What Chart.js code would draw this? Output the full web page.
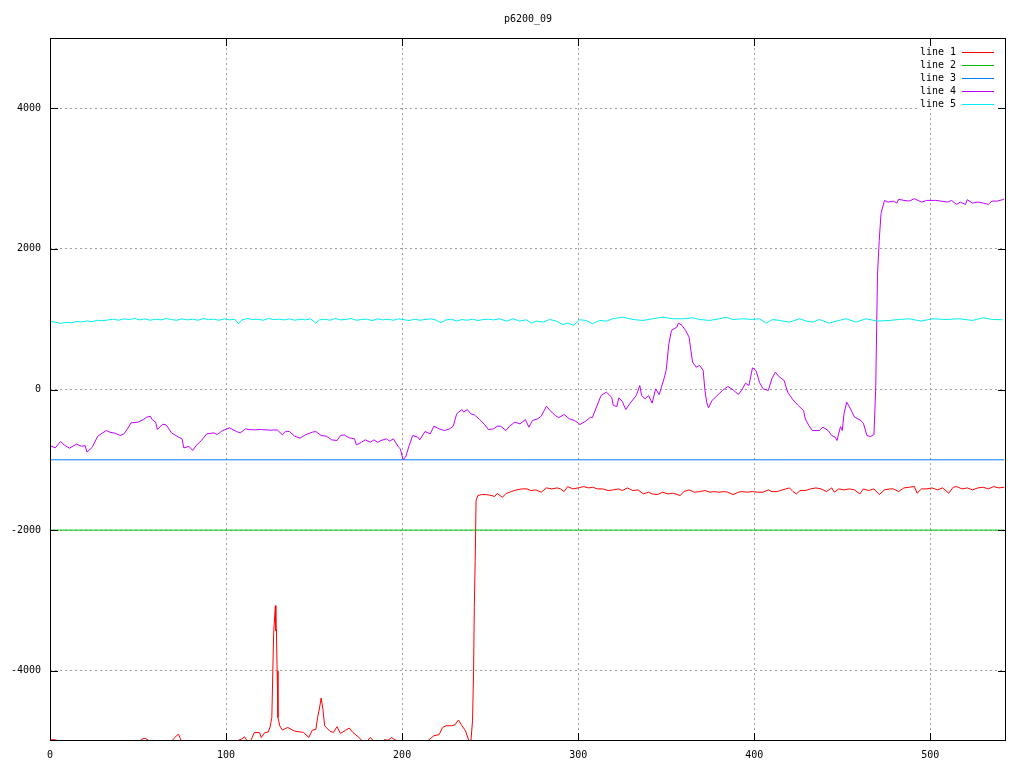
<!DOCTYPE html>
<html>
<head>
<meta charset="utf-8">
<script src="https://cdn.jsdelivr.net/npm/chart.js@4/dist/chart.umd.min.js"></script>
<style>
html,body{margin:0;padding:0;background:#fff;}
canvas{display:block;}
</style>
</head>
<body>
<canvas id="c" width="1024" height="768"></canvas>
<script>
const chartTitle = "p6200_09";
const seriesLabels = ["line 1", "line 2", "line 3", "line 4", "line 5"];
const seriesColors = ["#ff0000", "#00c000", "#0080ff", "#c000ff", "#00eeee"];
const xTicks = [0, 100, 200, 300, 400, 500];
const yTicks = [-4000, -2000, 0, 2000, 4000];
const xMin = 0, xMax = 543, yMin = -5000, yMax = 5000;

// line 1 (red)
const line1X = [0,2,4,6,10,20,40,50,52,54,56,58,65,69,71,72,73,74,75,90,100,105,107,109,110.5,112,113,114,116,119,120,122,124,125,126,127,128,128.3,128.6,129,129.5,130.5,132,135,139,144,147,149,151,152,153,154,155,156,159,161,163,165,168,170,172,175,177.5,179,180.5,182,184,186,188,190,192,194,196,198,200,205,210,214.5,218,221,223,225,228,230,232,234,236,238,239,240,240.6,241,241.5,242,243,245,248,251,252.5,254,257,259,262,265,268,271,273,276,279,282,285,288,290,292,294,297,300,303,306,308,311,314,317,320,323,325,328,331,334,337,340,342,345,348,351,354,358,360,363,366,369,372,375,377,380,383,385,388,391,393,396,399,402,405,408,410,413,416,420,422,424,426,429,432,435,438,441,444,445.5,448,451,454,457,460,462,465,468,471,474,477,479,482,485,488,491,492.5,495,498,501,504,507,510.5,513,515,518,521,524,527,530,533,536,539,542];
const line1Y = [-4985,-4980,-4990,-5060,-5200,-5300,-5200,-5050,-4975,-4960,-4990,-5080,-5100,-5000,-4950,-4920,-4905,-4960,-5080,-5300,-5200,-5050,-4990,-4970,-4940,-5000,-5050,-5000,-4880,-4880,-4950,-4880,-4870,-4800,-4665,-3480,-3075,-3430,-3410,-4000,-4665,-4785,-4845,-4807,-4860,-4878,-4950,-4845,-4835,-4665,-4545,-4389,-4545,-4783,-4860,-4878,-4797,-4892,-4845,-4816,-4878,-4940,-5000,-5060,-4990,-4950,-5010,-4990,-5030,-4980,-4990,-4950,-4985,-5000,-5100,-5250,-5150,-5000,-4925,-4910,-4807,-4783,-4783,-4770,-4702,-4783,-4855,-5000,-5020,-4712,-3975,-3099,-2434,-1580,-1509,-1495,-1495,-1509,-1523,-1480,-1533,-1480,-1452,-1428,-1414,-1414,-1438,-1428,-1461,-1400,-1414,-1400,-1414,-1452,-1381,-1414,-1400,-1381,-1400,-1390,-1414,-1414,-1438,-1428,-1414,-1438,-1400,-1438,-1428,-1485,-1461,-1485,-1495,-1461,-1485,-1475,-1509,-1452,-1428,-1461,-1452,-1438,-1461,-1452,-1461,-1452,-1461,-1495,-1461,-1452,-1461,-1452,-1461,-1461,-1428,-1452,-1452,-1428,-1400,-1452,-1485,-1438,-1438,-1414,-1400,-1414,-1452,-1400,-1461,-1414,-1428,-1414,-1428,-1485,-1414,-1438,-1414,-1495,-1428,-1414,-1414,-1452,-1400,-1390,-1381,-1475,-1414,-1414,-1400,-1428,-1400,-1475,-1390,-1381,-1414,-1400,-1428,-1400,-1390,-1414,-1381,-1400,-1390];

// line 2 (green) and line 3 (blue): constant levels
const line2X = [0, 542];
const line2Y = [-2000, -2000];
const line3X = [0, 542];
const line3Y = [-1000, -1000];

// line 4 (purple)
const line4X = [0,3,6,8,11,15,18,20,21,24,27,29,32,34,37,40,42,44,46,50,53,55,57,58,60,61,64,66,69,73,75,76,79,81,83,86,89,93,95,98,102,106,108,111,113,116,120,125,129,132,134,136,139,142,145,149,151,154,157,160,163,165,167,170,173,174,177,179,182,184,186,188,191,193,195,198,199,200.5,202,204,206,209,210,213,216,218,221,224,227,229,231,234,235,237,239,241,244,247,249,252,254,256,259,261,264,267,270,272,274,277,279,282,284,287,289,292,295,298,301,304,307,308,310,313,316,319,320,322,323,325,327,330,333,335,336,338,340,342,344,346,347,349,350,351.5,353,356,357,359,361,363,364,365,367,369,371,372,373,374,376,379,382,385,388,391,393,395,397,399,401,403,405,408,410,412,414,417,419,422,425,428,429,431,433,437,439,442,444,446,447,449,450,451,452.5,454,457,460,462,464,466,468,469,470,471,472,474,476,479,481,482,485,488,491,495,498,503,506,510,512,515,517,520,521,524,527,530,533,535,538,541,542];
const line4Y = [-797,-830,-740,-788,-835,-778,-807,-800,-892,-821,-669,-631,-584,-607,-622,-655,-631,-560,-475,-465,-427,-394,-380,-427,-465,-569,-494,-503,-617,-678,-702,-830,-810,-868,-797,-726,-631,-617,-641,-584,-546,-598,-617,-560,-569,-574,-569,-579,-574,-645,-593,-598,-664,-693,-645,-607,-598,-655,-664,-716,-726,-655,-645,-688,-702,-788,-750,-716,-750,-716,-750,-726,-702,-735,-702,-821,-845,-996,-963,-797,-655,-679,-716,-598,-631,-522,-560,-584,-560,-522,-346,-285,-322,-285,-346,-360,-427,-503,-569,-560,-522,-522,-584,-522,-465,-489,-427,-536,-441,-418,-380,-237,-299,-370,-400,-356,-418,-441,-498,-455,-394,-403,-275,-85,-38,-109,-228,-242,-119,-166,-285,-180,-85,57,-85,-133,-85,-194,9,-71,9,176,280,650,840,887,944,911,840,745,555,389,318,342,270,-14,-180,-261,-157,-85,-14,43,-5,-71,-5,90,57,308,270,100,9,-14,152,247,185,128,-38,-147,-228,-299,-418,-512,-584,-584,-536,-584,-655,-679,-726,-527,-584,-346,-180,-242,-394,-432,-479,-655,-669,-641,9,1623,2121,2501,2690,2666,2680,2652,2705,2690,2680,2714,2666,2690,2690,2680,2666,2690,2633,2666,2633,2700,2652,2666,2652,2633,2680,2680,2700,2710];

// line 5 (cyan)
const line5X = [0,3,6,9,12,15,18,21,24,27,30,33,36,39,42,45,48,51,54,57,60,63,66,69,72,75,78,81,84,87,90,93,96,99,102,105,107,109,112,115,118,121,124,127,130,133,136,139,142,145,148,151,153,156,159,162,165,168,171,174,177,180,183,186,189,192,195,198,201,204,207,210,213,216,219,222,225,228,231,234,237,240,243,246,249,252,255.4,259.2,263,266.8,270.5,273.4,276.2,280,283.8,287.6,291.3,294.2,297.4,300.8,304.6,308,312.2,316,319.7,325.4,331.1,336.8,342.4,348.1,353.8,359.5,365.1,368.9,374.6,380.3,384,387.8,393.5,399.2,403,406.8,410.5,414.3,420,425.7,429.5,433.2,437,442.7,446.5,452.2,457.8,463.5,470.1,476.8,482.4,488.1,494.7,501.4,508.9,516.5,524.1,529.7,535.4,541.1];
const line5Y = [968,958,940,955,948,968,960,975,965,985,978,990,1000,985,1005,995,1010,990,1005,985,1000,990,1010,995,985,1005,990,1000,985,1008,995,1000,985,1005,990,1000,935,990,1010,995,1000,985,1010,995,1000,990,1005,985,1000,990,1005,945,990,1000,985,1010,990,995,1010,985,995,1000,980,1005,990,1000,985,1005,995,980,1000,985,995,1005,990,950,990,1000,975,995,985,1000,980,995,1000,990,1006,973,1006,973,992,944,973,958,996,973,925,944,911,992,982,935,982,973,1006,1029,996,982,1006,1029,1006,1006,1020,996,982,1006,1029,996,1006,996,1006,944,996,982,958,1006,973,958,996,944,973,1006,958,1006,973,982,996,1006,973,1006,996,1006,982,1020,996,992];

const xs = [line1X, line2X, line3X, line4X, line5X];
const ys = [line1Y, line2Y, line3Y, line4Y, line5Y];

const FONT = "'DejaVu Sans Mono', monospace";

const datasets = seriesLabels.map((lab, i) => ({
  label: lab,
  data: xs[i].map((x, k) => ({x: x, y: ys[i][k]})),
  borderColor: seriesColors[i],
  backgroundColor: seriesColors[i],
  borderWidth: 1,
  pointRadius: 0,
  tension: 0,
  fill: false,
  order: seriesLabels.length - i
}));

const decor = {
  id: 'decor',
  beforeDatasetsDraw(chart) {
    const ctx = chart.ctx;
    // key area is opaque (hides grid behind it)
    ctx.save();
    ctx.fillStyle = '#ffffff';
    ctx.fillRect(917, 44, 84, 65);
    ctx.restore();
  },
  afterDraw(chart) {
    const ctx = chart.ctx;
    const a = chart.chartArea;
    const xs_ = chart.scales.x, ys_ = chart.scales.y;
    ctx.save();
    // border
    ctx.strokeStyle = '#000';
    ctx.lineWidth = 1;
    ctx.strokeRect(Math.round(a.left) + 0.5, Math.round(a.top) + 0.5,
                   Math.round(a.right - a.left) - 1, Math.round(a.bottom - a.top) - 1);
    // inward ticks
    const tl = 8;
    ctx.beginPath();
    yTicks.forEach(v => {
      const p = Math.round(ys_.getPixelForValue(v)) + 0.5;
      ctx.moveTo(a.left, p); ctx.lineTo(a.left + tl, p);
      ctx.moveTo(a.right, p); ctx.lineTo(a.right - tl, p);
    });
    xTicks.forEach(v => {
      const p = Math.round(xs_.getPixelForValue(v)) + 0.5;
      ctx.moveTo(p, a.bottom); ctx.lineTo(p, a.bottom - tl);
      ctx.moveTo(p, a.top); ctx.lineTo(p, a.top + tl);
    });
    ctx.stroke();
    // title
    ctx.fillStyle = '#000';
    ctx.font = '10px ' + FONT;
    ctx.textAlign = 'center';
    ctx.textBaseline = 'middle';
    ctx.fillText(chartTitle, (a.left + a.right) / 2, 19);
    // key
    ctx.textAlign = 'right';
    seriesLabels.forEach((lab, i) => {
      const y = 52 + i * 13;
      ctx.fillStyle = '#000';
      ctx.fillText(lab, 956, y);
      ctx.strokeStyle = seriesColors[i];
      ctx.beginPath();
      ctx.moveTo(962, Math.round(y) + 0.5);
      ctx.lineTo(994, Math.round(y) + 0.5);
      ctx.stroke();
    });
    ctx.restore();
  }
};

new Chart(document.getElementById('c'), {
  type: 'line',
  data: { datasets: datasets },
  options: {
    responsive: false,
    animation: false,
    events: [],
    layout: { padding: { left: 0, right: 18, top: 38, bottom: 0 } },
    plugins: { legend: { display: false }, title: { display: false }, tooltip: { enabled: false } },
    scales: {
      x: {
        type: 'linear', min: xMin, max: xMax,
        afterBuildTicks: s => { s.ticks = xTicks.map(v => ({value: v})); },
        afterFit: s => { s.height = 27; },
        border: { display: false, dash: [2, 3] },
        grid: { color: '#a0a0a0', lineWidth: 1, drawTicks: false, tickLength: 0 },
        ticks: { padding: 8, color: '#000', font: { family: FONT, size: 10 }, maxRotation: 0,
                 callback: v => String(v) }
      },
      y: {
        type: 'linear', min: yMin, max: yMax,
        afterBuildTicks: s => { s.ticks = yTicks.map(v => ({value: v})); },
        afterFit: s => { s.width = 50; },
        border: { display: false, dash: [2, 3] },
        grid: { color: '#a0a0a0', lineWidth: 1, drawTicks: false, tickLength: 0 },
        ticks: { padding: 9, color: '#000', font: { family: FONT, size: 10 },
                 callback: v => String(v) }
      }
    }
  },
  plugins: [decor]
});
</script>
</body>
</html>
